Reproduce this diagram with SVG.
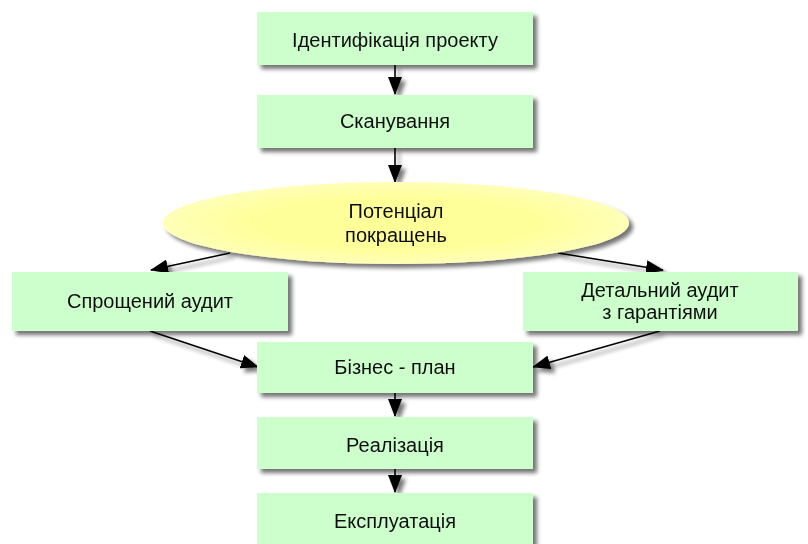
<svg xmlns="http://www.w3.org/2000/svg" width="808" height="544" viewBox="0 0 808 544">
<defs>
<filter id="sh" x="-10%" y="-20%" width="130%" height="150%">
<feGaussianBlur in="SourceAlpha" stdDeviation="2"/>
<feOffset dx="4" dy="4" result="b"/>
<feComponentTransfer><feFuncA type="linear" slope="0.55"/></feComponentTransfer>
<feMerge><feMergeNode/><feMergeNode in="SourceGraphic"/></feMerge>
</filter>
<radialGradient id="yg" cx="50%" cy="50%" r="50%">
<stop offset="0.6" stop-color="#ffff99"/>
<stop offset="1" stop-color="#ffffb8"/>
</radialGradient>
<marker id="ah" viewBox="0 0 18 14" refX="17" refY="7" markerWidth="18" markerHeight="14" markerUnits="userSpaceOnUse" orient="auto">
<path d="M0,0 L18,7 L0,14 Z" fill="#000"/>
</marker>
<style>
.box{fill:#ccffcc;}
.t{font-family:"Liberation Sans",Arial,sans-serif;font-size:20px;fill:#111;text-anchor:middle;}
.c{stroke:#000;stroke-width:1.6;fill:none;marker-end:url(#ah);}
</style>
</defs>
<g id="connectors" filter="url(#sh)">
<line class="c" x1="395" y1="65" x2="395" y2="94"/>
<line class="c" x1="395" y1="148" x2="395" y2="182"/>
<line class="c" x1="230" y1="253" x2="151" y2="270"/>
<line class="c" x1="558" y1="253" x2="663" y2="270"/>
<line class="c" x1="150" y1="331" x2="258" y2="367"/>
<line class="c" x1="660" y1="331" x2="533" y2="367"/>
<line class="c" x1="395" y1="393" x2="395" y2="416"/>
<line class="c" x1="395" y1="469" x2="395" y2="492"/>
</g>
<g id="n1" filter="url(#sh)"><rect class="box" x="257" y="12" width="276" height="53"/><text class="t" x="395" y="47">Ідентифікація проекту</text></g>
<g id="n2" filter="url(#sh)"><rect class="box" x="257" y="95" width="276" height="53"/><text class="t" x="395" y="128">Сканування</text></g>
<g id="n3" filter="url(#sh)"><ellipse cx="396" cy="223" rx="233" ry="41" fill="url(#yg)"/><text class="t" x="396" y="218">Потенціал</text><text class="t" x="396" y="242">покращень</text></g>
<g id="n4" filter="url(#sh)"><rect class="box" x="12" y="272" width="276" height="59"/><text class="t" x="150" y="308">Спрощений аудит</text></g>
<g id="n5" filter="url(#sh)"><rect class="box" x="523" y="272" width="275" height="59"/><text class="t" x="660" y="297">Детальний аудит</text><text class="t" x="660" y="319">з гарантіями</text></g>
<g id="n6" filter="url(#sh)"><rect class="box" x="257" y="342" width="276" height="51"/><text class="t" x="395" y="374">Бізнес - план</text></g>
<g id="n7" filter="url(#sh)"><rect class="box" x="257" y="417" width="276" height="52"/><text class="t" x="395" y="452">Реалізація</text></g>
<g id="n8" filter="url(#sh)"><rect class="box" x="257" y="493" width="276" height="53"/><text class="t" x="395" y="528">Експлуатація</text></g>
</svg>
